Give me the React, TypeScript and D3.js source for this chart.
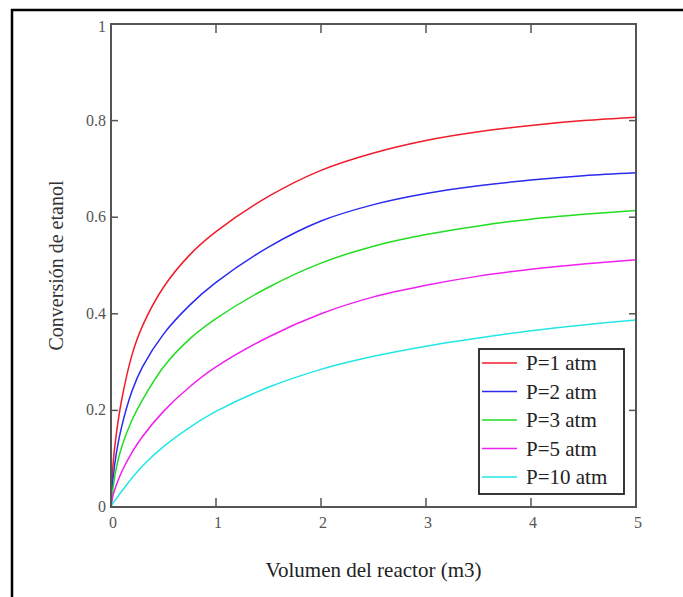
import React from "react";
import * as d3 from "d3";

const volumes = [0, 0.02, 0.05, 0.1, 0.2, 0.3, 0.5, 0.75, 1, 1.5, 2, 2.5, 3, 3.5, 4, 4.5, 5];
const p1 = [0, 0.09, 0.15, 0.22, 0.315, 0.375, 0.455, 0.522, 0.57, 0.643, 0.697, 0.733, 0.759, 0.777, 0.79, 0.8, 0.807];
const p2 = [0, 0.06, 0.11, 0.165, 0.24, 0.29, 0.358, 0.418, 0.465, 0.538, 0.592, 0.626, 0.649, 0.665, 0.677, 0.686, 0.692];
const p3 = [0, 0.04, 0.08, 0.123, 0.18, 0.222, 0.29, 0.348, 0.39, 0.455, 0.505, 0.54, 0.564, 0.582, 0.596, 0.606, 0.614];
const p5 = [0, 0.025, 0.045, 0.072, 0.113, 0.146, 0.198, 0.249, 0.29, 0.352, 0.4, 0.435, 0.459, 0.478, 0.492, 0.503, 0.512];
const p10 = [0, 0.008, 0.017, 0.032, 0.06, 0.085, 0.125, 0.165, 0.198, 0.248, 0.285, 0.312, 0.333, 0.35, 0.365, 0.377, 0.387];

const seriesNames = ["P=1 atm", "P=2 atm", "P=3 atm", "P=5 atm", "P=10 atm"];
const seriesValues = [p1, p2, p3, p5, p10];
const seriesColors = ["#f01c2c", "#2a2af0", "#22dd22", "#f020f0", "#22e6e6"];

const xTicks = [0, 1, 2, 3, 4, 5];
const yTicks = [0, 0.2, 0.4, 0.6, 0.8, 1];
const yTickLabels = ["0", "0.2", "0.4", "0.6", "0.8", "1"];

const FONT = "'Liberation Serif', 'Times New Roman', Times, serif";

export default function App() {
  const left = 111, right = 636, top = 24, bottom = 507;
  const x = d3.scaleLinear().domain([0, 5]).range([left, right]);
  const y = d3.scaleLinear().domain([0, 1]).range([bottom, top]);
  const line = d3
    .line<[number, number]>()
    .x((d) => x(d[0]))
    .y((d) => y(d[1]))
    .curve(d3.curveCatmullRom.alpha(0.5));

  const axisColor = "#555";
  const lx = 479, ly = 349, lw = 145, lh = 145;
  const tf = { fontFamily: FONT };

  return (
    <svg
      width={683}
      height={597}
      style={{ position: "absolute", left: 0, top: 0, background: "#fff" }}
    >
      <rect x={0} y={0} width={683} height={597} fill="#fff" />
      <rect x={12} y={10} width={690} height={620} fill="none" stroke="#000" strokeWidth={2.5} />

      {seriesValues.map((vals, i) => (
        <path
          key={i}
          d={line(volumes.map((v, j) => [v, vals[j]] as [number, number])) || ""}
          fill="none"
          stroke={seriesColors[i]}
          strokeWidth={1.5}
        />
      ))}

      <rect x={left} y={top} width={right - left} height={bottom - top} fill="none" stroke={axisColor} strokeWidth={2} />

      {xTicks.slice(1, -1).map((t) => (
        <g key={"xt" + t}>
          <line x1={x(t)} x2={x(t)} y1={bottom} y2={bottom - 9} stroke={axisColor} strokeWidth={1.5} />
          <line x1={x(t)} x2={x(t)} y1={top} y2={top + 9} stroke={axisColor} strokeWidth={1.5} />
        </g>
      ))}
      {yTicks.slice(1, -1).map((t) => (
        <g key={"yt" + t}>
          <line x1={left} x2={left + 7} y1={y(t)} y2={y(t)} stroke={axisColor} strokeWidth={1.5} />
          <line x1={right} x2={right - 7} y1={y(t)} y2={y(t)} stroke={axisColor} strokeWidth={1.5} />
        </g>
      ))}

      {xTicks.map((t) => (
        <text key={"xl" + t} x={x(t) + 2} y={bottom + 21} textAnchor="middle" fontSize={16} fill="#555" style={tf}>
          {t}
        </text>
      ))}
      {yTicks.map((t, i) => (
        <text key={"yl" + t} x={left - 5} y={y(t) + (i === yTicks.length - 1 ? 8 : 5)} textAnchor="end" fontSize={16} fill="#555" style={tf}>
          {yTickLabels[i]}
        </text>
      ))}

      <text x={(left + right) / 2} y={577} textAnchor="middle" fontSize={21} fill="#222" style={tf}>
        Volumen del reactor (m3)
      </text>
      <text
        transform={`translate(63, ${(top + bottom) / 2}) rotate(-90)`}
        textAnchor="middle"
        fontSize={20}
        fill="#333"
        style={tf}
      >
        Conversión de etanol
      </text>

      <rect x={lx} y={ly} width={lw} height={lh} fill="#fff" stroke="#222" strokeWidth={1.8} />
      {seriesNames.map((name, i) => {
        const cy = ly + 14 + i * 28.5;
        return (
          <g key={name}>
            <line x1={lx + 3} x2={lx + 38} y1={cy} y2={cy} stroke={seriesColors[i]} strokeWidth={1.5} />
            <text x={lx + 47} y={cy + 7} fontSize={21} fill="#222" style={tf}>
              {name}
            </text>
          </g>
        );
      })}
    </svg>
  );
}
